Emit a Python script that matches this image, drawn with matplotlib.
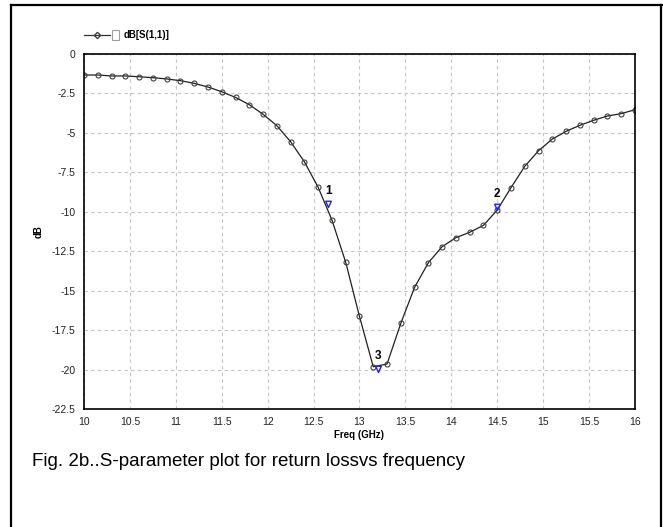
import matplotlib
matplotlib.use("Agg")
import matplotlib.pyplot as plt
from matplotlib.lines import Line2D
from matplotlib.patches import Rectangle
from matplotlib.path import Path
from matplotlib.ticker import FormatStrFormatter

plt.rcParams['font.family'] = ['Liberation Sans', 'DejaVu Sans']

# S11 sweep (GHz, dB)
freq = [10.0, 10.15, 10.3, 10.45, 10.6, 10.75, 10.9, 11.05, 11.2, 11.35,
        11.5, 11.65, 11.8, 11.95, 12.1, 12.25, 12.4, 12.55, 12.7, 12.85,
        13.0, 13.15, 13.3, 13.45, 13.6, 13.75, 13.9, 14.05, 14.2, 14.35,
        14.5, 14.65, 14.8, 14.95, 15.1, 15.25, 15.4, 15.55, 15.7, 15.85, 16.0]
s11 = [-1.33, -1.33, -1.39, -1.39, -1.44, -1.50, -1.58, -1.69, -1.86, -2.09,
       -2.39, -2.75, -3.21, -3.82, -4.54, -5.56, -6.83, -8.45, -10.52, -13.2,
       -16.63, -19.82, -19.65, -17.07, -14.79, -13.23, -12.21, -11.64, -11.30, -10.86,
       -9.89, -8.47, -7.12, -6.13, -5.39, -4.90, -4.52, -4.20, -3.93, -3.78, -3.53]

# markers 1..3
mk_x = [12.66, 14.5, 13.2]
mk_y = [-9.7, -9.89, -20.15]
mk_lbl = ["1", "2", "3"]

xticks = [10, 10.5, 11, 11.5, 12, 12.5, 13, 13.5, 14, 14.5, 15, 15.5, 16]
yticks = [0, -2.5, -5, -7.5, -10, -12.5, -15, -17.5, -20, -22.5]

fig = plt.figure(figsize=(6.63, 5.27), dpi=100)
ax = fig.add_axes([0.1267, 0.2239, 0.831, 0.6736])

ax.plot(freq, s11, color="#202020", lw=0.9, marker="o", ms=3.6,
        mfc="none", mec="#404040", mew=0.8)

# inverted triangle with its tip on the point
tri = Path([(-1, 2.2), (1, 2.2), (0, 0), (-1, 2.2)],
           [Path.MOVETO, Path.LINETO, Path.LINETO, Path.CLOSEPOLY])
for x, y, t in zip(mk_x, mk_y, mk_lbl):
    ax.plot([x], [y], marker=tri, ms=9, mfc="none", mec="#2020ff", mew=1.0, ls="none")
    ax.annotate(t, (x, y), xytext=(0, 7), textcoords="offset points",
                ha="center", va="bottom", fontsize=8.5, fontweight="bold")

ax.set_xlim(10, 16)
ax.set_ylim(-22.5, 0)
ax.set_xticks(xticks)
ax.set_yticks(yticks)
ax.xaxis.set_major_formatter(FormatStrFormatter("%g"))
ax.yaxis.set_major_formatter(FormatStrFormatter("%g"))
ax.tick_params(length=0, labelsize=7.5, pad=6, colors="#222222")
ax.grid(True, ls=(0, (3, 3)), color="#c4c4c4", lw=0.8)
for s in ax.spines.values():
    s.set_linewidth(1.2)

ax.set_xlabel("Freq (GHz)", fontsize=7, fontweight="bold", labelpad=2)
ax.set_ylabel("dB", fontsize=7, fontweight="bold", labelpad=6)

# legend row at the top
fig.add_artist(Line2D([84 / 663, 97 / 663, 110 / 663], [1 - 35 / 527] * 3, color="#303030",
                      lw=0.9, marker="D", ms=3.2, mfc="none", mec="#404040", markevery=[1],
                      transform=fig.transFigure))
fig.add_artist(Rectangle((112 / 663, 1 - 40 / 527), 7 / 663, 10 / 527, fill=False,
                         ec="#a0a0a0", lw=0.8, transform=fig.transFigure))
fig.text(124 / 663, 1 - 35 / 527, "dB[S(1,1)]", fontsize=7, fontweight="bold",
         va="center", ha="left")

# outer frame
for xs, ys in [([11, 11], [5, 527]), ([11, 662], [5, 5]), ([661, 661], [5, 527])]:
    fig.add_artist(Line2D([v / 663 for v in xs], [1 - v / 527 for v in ys],
                          color="black", lw=1.6, transform=fig.transFigure))

fig.text(32 / 663, 1 - 462 / 527, "Fig. 2b..S-parameter plot for return lossvs frequency",
         fontsize=13.5, va="center", ha="left")

fig.savefig("out.png", dpi=100)
